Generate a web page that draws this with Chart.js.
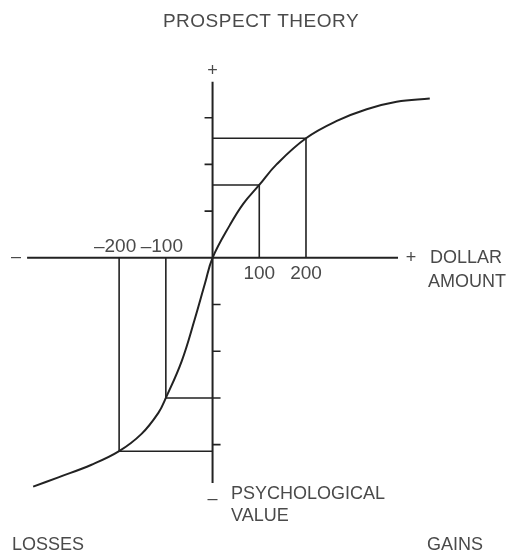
<!DOCTYPE html>
<html>
<head>
<meta charset="utf-8">
<script src="https://cdn.jsdelivr.net/npm/chart.js@4/dist/chart.umd.min.js"></script>
<style>
  html, body { margin: 0; padding: 0; background: #fff; }
  #wrap { width: 512px; height: 553px; position: relative; }
</style>
</head>
<body>
<div id="wrap"><canvas id="prospectChart"></canvas></div>
<script>
// Value curve (dollar amount -> psychological value)
const curveX = [-384, -330, -259, -200, -152, -116, -100, -66, -38, -16, 0, 37, 66, 100, 137, 200, 266, 330, 394, 465];
const curveY = [-490, -470, -443, -414, -377, -332, -300, -221, -131, -54, 0, 70, 116, 156, 200, 256, 293, 318, 334, 341];

// Marked amounts and their values (the boxes)
const guideX = [-200, -100, 100, 200];
const guideY = [-414, -300, 156, 256];

// Axis extents and tick marks
const xAxisRange = [-397, 397];
const yAxisRange = [-482, 377];
const yTicksUpper = [100, 200, 300];
const yTicksLower = [-100, -200, -300, -400];
const xTickLabelsAbove = [-200, -100];
const xTickLabelsBelow = [100, 200];

const ink = "#222";
const textColor = "#4a4a4a";
const font = "Liberation Sans, Arial, sans-serif";

// curve dataset
const datasets = [
  {
    label: "Value",
    data: curveX.map((x, i) => ({ x: x, y: curveY[i] })),
    borderColor: ink,
    borderWidth: 2,
    pointRadius: 0,
    tension: 0.4,
    fill: false,
  },
];

// one dataset per box: amount axis -> curve -> value axis
guideX.forEach((gx, i) => {
  datasets.push({
    label: "Guide " + gx,
    data: [
      { x: gx, y: 0 },
      { x: gx, y: guideY[i] },
      { x: 0, y: guideY[i] },
    ],
    borderColor: ink,
    borderWidth: 1.6,
    pointRadius: 0,
    tension: 0,
    fill: false,
  });
});

// Draw the crossing axes and their tick marks
const axesPlugin = {
  id: "crossAxes",
  beforeDatasetsDraw(chart) {
    const { ctx, scales } = chart;
    const xs = scales.x, ys = scales.y;
    const x0 = xs.getPixelForValue(0), y0 = ys.getPixelForValue(0);
    ctx.save();
    ctx.strokeStyle = ink;
    ctx.lineWidth = 2;
    ctx.beginPath();
    ctx.moveTo(xs.getPixelForValue(xAxisRange[0]), y0);
    ctx.lineTo(xs.getPixelForValue(xAxisRange[1]), y0);
    ctx.moveTo(x0, ys.getPixelForValue(yAxisRange[1]));
    ctx.lineTo(x0, ys.getPixelForValue(yAxisRange[0]));
    ctx.stroke();

    ctx.lineWidth = 1.6;
    ctx.beginPath();
    yTicksUpper.forEach((v) => {
      const py = ys.getPixelForValue(v);
      ctx.moveTo(x0 - 8, py);
      ctx.lineTo(x0, py);
    });
    yTicksLower.forEach((v) => {
      const py = ys.getPixelForValue(v);
      ctx.moveTo(x0, py);
      ctx.lineTo(x0 + 8, py);
    });
    ctx.stroke();
    ctx.restore();
  },
  afterDraw(chart) {
    const { ctx, scales } = chart;
    const xs = scales.x, ys = scales.y;
    const x0 = xs.getPixelForValue(0), y0 = ys.getPixelForValue(0);
    const xl = xs.getPixelForValue(xAxisRange[0]);
    const xr = xs.getPixelForValue(xAxisRange[1]);
    const yt = ys.getPixelForValue(yAxisRange[1]);
    const yb = ys.getPixelForValue(yAxisRange[0]);

    ctx.save();
    ctx.fillStyle = textColor;
    ctx.textBaseline = "middle";

    // title
    ctx.font = "19px " + font;
    ctx.textAlign = "center";
    ctx.letterSpacing = "0.5px";
    ctx.fillText("PROSPECT THEORY", 261, 22);
    ctx.letterSpacing = "0px";

    // signs at the axis ends
    ctx.font = "18px " + font;
    ctx.fillText("+", x0, yt - 11);
    ctx.fillText("\u2013", xl - 11, y0 - 1);
    ctx.fillText("+", xr + 13, y0);
    ctx.fillText("\u2013", x0, yb + 16);

    // tick labels on the amount axis
    ctx.font = "19px " + font;
    xTickLabelsAbove.forEach((v) => {
      ctx.fillText("\u2013" + Math.abs(v), xs.getPixelForValue(v) - 4, y0 - 11);
    });
    xTickLabelsBelow.forEach((v) => {
      ctx.fillText(String(v), xs.getPixelForValue(v), y0 + 16);
    });

    // axis titles
    ctx.font = "18px " + font;
    ctx.textAlign = "left";
    ctx.fillText("DOLLAR", 430, y0);
    ctx.fillText("AMOUNT", 428, y0 + 24);
    ctx.fillText("PSYCHOLOGICAL", 231, 494);
    ctx.fillText("VALUE", 231, 516);
    ctx.fillText("LOSSES", 12, 545);
    ctx.fillText("GAINS", 427, 545);
    ctx.restore();
  },
};

const ctx = document.getElementById("prospectChart").getContext("2d");
const prospectChart = new Chart(ctx, {
  type: "line",
  data: { datasets: datasets },
  options: {
    responsive: true,
    maintainAspectRatio: false,
    animation: false,
    layout: { padding: 0 },
    plugins: {
      legend: { display: false },
      title: { display: false },
      tooltip: { enabled: false },
    },
    scales: {
      x: { type: "linear", min: -455, max: 641, display: false },
      y: { type: "linear", min: -632, max: 552, display: false },
    },
  },
  plugins: [axesPlugin],
});
</script>
</body>
</html>
